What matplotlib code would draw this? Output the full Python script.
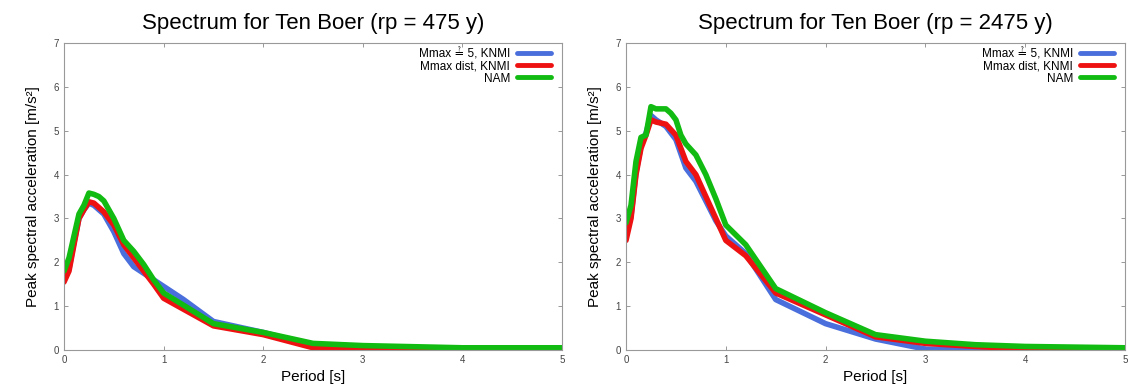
import matplotlib
matplotlib.use("Agg")
import matplotlib.pyplot as plt

plt.rcParams['font.family'] = ['Liberation Sans', 'DejaVu Sans']

# periods [s] and spectra [m/s2]
# rp = 475 y
t_475_green = [0, 0.05, 0.1, 0.15, 0.2, 0.25, 0.3, 0.35, 0.4, 0.5, 0.6, 0.7, 0.8, 0.9, 1.0, 1.5, 2.0, 2.5, 3.0, 4.0, 5.0]
nam_475 = [1.8, 2.1, 2.6, 3.1, 3.3, 3.58, 3.55, 3.5, 3.4, 3.0, 2.5, 2.25, 1.95, 1.6, 1.3, 0.6, 0.4, 0.15, 0.1, 0.05, 0.05]
t_475_red = [0, 0.05, 0.1, 0.15, 0.2, 0.25, 0.3, 0.4, 0.5, 0.6, 0.7, 0.8, 0.9, 1.0, 1.5, 2.0, 2.5, 3.0, 5.0]
dist_475 = [1.55, 1.8, 2.4, 3.0, 3.2, 3.38, 3.35, 3.15, 2.85, 2.4, 2.1, 1.8, 1.5, 1.18, 0.55, 0.35, 0.05, 0.02, 0.02]
t_475_blue = [0, 0.05, 0.1, 0.15, 0.2, 0.25, 0.3, 0.4, 0.5, 0.6, 0.7, 0.8, 0.9, 1.0, 1.2, 1.5, 2.0, 2.5, 3.0, 5.0]
m5_475 = [1.6, 1.85, 2.45, 3.0, 3.2, 3.35, 3.3, 3.1, 2.7, 2.2, 1.9, 1.75, 1.6, 1.45, 1.15, 0.65, 0.4, 0.1, 0.05, 0.02]

# rp = 2475 y
t_2475_green = [0, 0.05, 0.1, 0.15, 0.2, 0.25, 0.3, 0.35, 0.4, 0.45, 0.5, 0.55, 0.6, 0.7, 0.8, 0.9, 1.0, 1.2, 1.5, 2.0, 2.5, 3.0, 3.5, 4.0, 5.0]
nam_2475 = [2.9, 3.3, 4.3, 4.85, 4.9, 5.55, 5.5, 5.5, 5.5, 5.4, 5.25, 4.9, 4.7, 4.45, 4.0, 3.45, 2.85, 2.4, 1.4, 0.85, 0.35, 0.2, 0.12, 0.08, 0.05]
t_2475_red = [0, 0.05, 0.1, 0.15, 0.2, 0.25, 0.3, 0.4, 0.5, 0.6, 0.7, 0.8, 0.9, 1.0, 1.2, 1.5, 2.0, 2.5, 3.0, 3.5, 4.0, 5.0]
dist_2475 = [2.5, 3.0, 4.0, 4.6, 4.9, 5.25, 5.2, 5.15, 4.9, 4.3, 4.0, 3.5, 3.0, 2.5, 2.15, 1.3, 0.8, 0.3, 0.15, 0.08, 0.02, 0.0]
t_2475_blue = [0, 0.05, 0.1, 0.15, 0.2, 0.25, 0.3, 0.4, 0.5, 0.6, 0.7, 0.8, 0.9, 1.0, 1.2, 1.5, 2.0, 2.5, 3.0, 4.0, 5.0]
m5_2475 = [2.6, 3.05, 4.05, 4.65, 4.95, 5.35, 5.25, 5.1, 4.8, 4.15, 3.85, 3.4, 2.95, 2.6, 2.2, 1.15, 0.6, 0.25, 0.02, 0.0, 0.0]

labels = ["Mmax \u225f 5, KNMI", "Mmax dist, KNMI", "NAM"]
colors = ["#4a6fdc", "#ee1111", "#11bb11"]

fig = plt.figure(figsize=(11.31, 3.85), dpi=100)
ax1 = fig.add_axes([0.0566, 0.091, 0.4404, 0.797])
ax2 = fig.add_axes([0.5535, 0.091, 0.4412, 0.797])

panels = [
    (ax1, "Spectrum for Ten Boer (rp = 475 y)",
     [(t_475_blue, m5_475), (t_475_red, dist_475), (t_475_green, nam_475)]),
    (ax2, "Spectrum for Ten Boer (rp = 2475 y)",
     [(t_2475_blue, m5_2475), (t_2475_red, dist_2475), (t_2475_green, nam_2475)]),
]

for ax, title, series in panels:
    for (t, v), lab, c in zip(series, labels, colors):
        ax.plot(t, v, color=c, lw=4, label=lab, solid_joinstyle="round", solid_capstyle="round")
    ax.set_xlim(0, 5)
    ax.set_ylim(0, 7)
    ax.set_xticks(range(0, 6))
    ax.set_yticks(range(0, 8))
    ax.set_title(title, fontsize=16, pad=10)
    ax.set_xlabel("Period [s]", fontsize=11, labelpad=4)
    ax.set_ylabel("Peak spectral acceleration [m/s\u00b2]", fontsize=11, labelpad=10)
    ax.tick_params(direction="in", top=True, right=True, labelsize=7, labelcolor="#444444",
                   color="#888888", length=3, width=0.6)
    for s in ax.spines.values():
        s.set_color("#999999")
        s.set_linewidth(0.8)
    leg = ax.legend(loc="upper right", bbox_to_anchor=(0.988, 0.998), frameon=False,
                    markerfirst=False, fontsize=8.5, handlelength=2.9, handletextpad=0.6,
                    labelspacing=0.0, borderaxespad=0.0, borderpad=0.4)
    for line in leg.get_lines():
        line.set_linewidth(3.5)
    for txt in leg.get_texts():
        txt.set_ha("right")

fig.savefig("out.png", dpi=100)
